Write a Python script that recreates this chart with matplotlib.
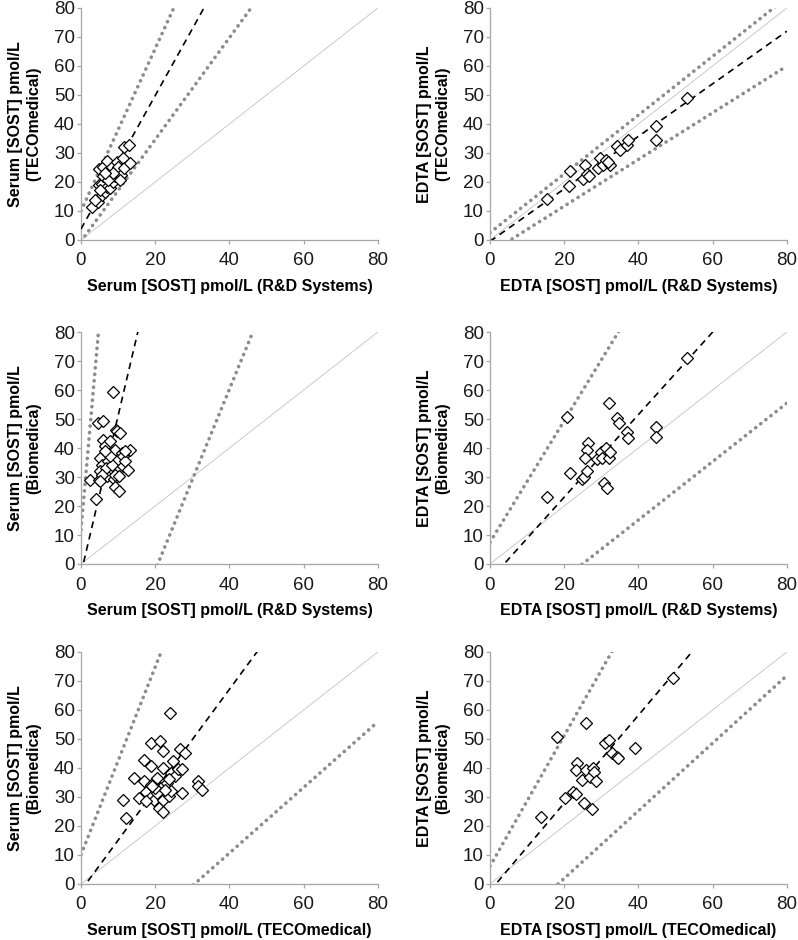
import numpy as np
import matplotlib
matplotlib.use('Agg')
from matplotlib import pyplot as plt

plt.rcParams['font.family'] = ['Liberation Sans', 'DejaVu Sans']

# serum, R&D Systems vs TECOmedical
serum_rd_a = [2.9, 4.5, 4.9, 4.9, 5.6, 5.6, 6.0, 6.0, 6.5, 6.9, 6.9, 7.8, 8.3, 8.7, 9.2,
              9.6, 9.2, 10.1, 10.8, 11.2, 11.6, 11.6, 13.0, 13.2, 5.1, 7.4, 8.7, 3.8, 6.5, 10.5]
serum_teco_a = [11.5, 13.0, 19.0, 24.4, 15.5, 19.2, 21.9, 25.3, 16.7, 27.3, 18.4, 17.8, 25.3, 20.1, 21.9,
                27.0, 23.6, 25.3, 22.4, 28.2, 24.7, 31.9, 32.8, 26.5, 17.3, 20.7, 23.0, 13.8, 23.0, 20.7]

# serum, R&D Systems vs Biomedica
serum_rd_b = [2.4, 4.0, 4.5, 5.8, 5.1, 4.9, 5.6, 5.0, 6.0, 6.5, 7.1, 7.4, 7.8, 6.7, 8.7, 8.4, 9.0, 9.2,
              9.2, 9.4, 9.8, 10.5, 10.3, 9.2, 11.0, 11.4, 11.2, 11.9, 12.6, 13.2, 10.2, 5.6, 7.8, 6.5, 5.1, 11.9]
serum_bio_b = [29.1, 22.5, 48.6, 49.2, 36.6, 29.1, 34.0, 32.0, 42.9, 40.6, 30.5, 35.4, 42.3, 33.1, 59.2, 34.3,
               29.3, 26.6, 39.4, 46.3, 45.7, 45.2, 25.1, 30.8, 38.3, 37.1, 33.9, 35.4, 32.3, 39.4, 30.5, 30.8,
               37.1, 38.9, 28.5, 38.9]

# serum, TECOmedical vs Biomedica
serum_teco_c = [11.4, 12.1, 14.4, 15.5, 17.1, 17.1, 17.5, 18.9, 18.9, 18.8, 19.1, 19.7, 20.4, 20.6, 21.3,
                21.0, 22.0, 22.0, 22.2, 22.2, 23.1, 23.6, 24.0, 24.2, 24.2, 24.9, 25.3, 26.2, 26.7, 27.1,
                27.9, 27.1, 31.6, 31.4, 32.5, 20.0, 22.7, 19.1, 17.5, 23.6]
serum_bio_c = [29.1, 22.6, 36.6, 29.5, 42.7, 35.5, 31.8, 48.7, 40.6, 34.3, 30.3, 29.1, 36.6, 31.4, 49.3,
               26.2, 24.9, 45.8, 40.1, 29.1, 34.9, 30.3, 59.0, 38.3, 32.0, 42.4, 37.4, 39.5, 46.4, 31.2,
               45.2, 39.5, 35.5, 33.7, 32.3, 33.1, 32.3, 33.7, 28.5, 36.3]

# EDTA, R&D Systems vs TECOmedical
edta_rd_a = [15.4, 21.4, 21.7, 25.1, 25.6, 26.2, 26.7, 29.2, 29.6, 30.5, 31.4, 32.3, 31.9,
             34.1, 35.0, 36.8, 37.3, 44.7, 44.7, 53.0]
edta_teco_a = [14.0, 18.6, 23.7, 20.9, 26.0, 22.6, 22.2, 24.9, 28.3, 26.0, 27.7, 26.0, 26.8,
               32.3, 31.2, 32.9, 34.6, 39.2, 34.4, 49.0]

# EDTA, R&D Systems vs Biomedica
edta_rd_b = [15.3, 20.8, 21.7, 24.7, 25.3, 26.2, 26.5, 26.2, 25.6, 28.9, 29.8, 30.1, 30.7, 31.6,
             31.2, 32.1, 32.1, 32.3, 34.3, 34.8, 36.8, 37.3, 44.7, 44.7, 53.0]
edta_bio_b = [23.2, 50.8, 31.3, 29.2, 29.9, 32.1, 41.8, 39.3, 36.4, 36.1, 38.7, 36.4, 28.0, 26.1,
              40.1, 55.6, 36.4, 38.7, 50.2, 48.7, 45.6, 43.6, 47.1, 43.7, 71.2]

# EDTA, TECOmedical vs Biomedica
edta_teco_c = [13.7, 18.1, 20.2, 22.4, 23.2, 23.5, 23.2, 24.7, 25.3, 25.9, 25.9, 26.9, 27.4, 27.7,
               28.0, 28.6, 31.0, 32.1, 32.8, 34.1, 34.4, 39.1, 49.4]
edta_bio_c = [23.0, 50.6, 29.6, 31.8, 31.1, 41.8, 39.3, 35.9, 28.0, 55.4, 39.3, 37.0, 25.8, 39.9,
              38.7, 35.6, 48.5, 49.7, 45.1, 43.7, 43.3, 46.8, 71.2]

# (intercept, slope): regression, upper limit, lower limit
fits = [
    [(3.8, 2.3), (10.0, 2.8), (-0.45, 1.755)],
    [(-0.5, 0.906), (2.5, 1.014), (-4.43, 0.805)],
    [(-3.27, 5.44), (11.8, 14.5), (-64.7, 3.125)],
    [(-5.41, 1.423), (7.5, 2.095), (-25.1, 1.007)],
    [(-2.26, 1.735), (10.1, 3.236), (-34.6, 1.1316)],
    [(-2.42, 1.515), (6.1, 2.253), (-21.4, 1.166)],
]

xlabels = ['Serum [SOST] pmol/L (R&D Systems)', 'EDTA [SOST] pmol/L (R&D Systems)',
           'Serum [SOST] pmol/L (R&D Systems)', 'EDTA [SOST] pmol/L (R&D Systems)',
           'Serum [SOST] pmol/L (TECOmedical)', 'EDTA [SOST] pmol/L (TECOmedical)']
ylabels = ['Serum [SOST] pmol/L\n(TECOmedical)', 'EDTA [SOST] pmol/L\n(TECOmedical)',
           'Serum [SOST] pmol/L\n(Biomedica)', 'EDTA [SOST] pmol/L\n(Biomedica)',
           'Serum [SOST] pmol/L\n(Biomedica)', 'EDTA [SOST] pmol/L\n(Biomedica)']

data = [(serum_rd_a, serum_teco_a), (edta_rd_a, edta_teco_a),
        (serum_rd_b, serum_bio_b), (edta_rd_b, edta_bio_b),
        (serum_teco_c, serum_bio_c), (edta_teco_c, edta_bio_c)]

fig = plt.figure(figsize=(7.98, 9.40), dpi=100)

lefts = [0.1015, 0.614]
bottoms = [0.7447, 0.400, 0.0596]
w, h = 0.372, 0.2468

spine_col = '#a6a6a6'
xs = np.array([0.0, 80.0])

for i in range(6):
    ax = fig.add_axes([lefts[i % 2], bottoms[i // 2], w, h])
    x, y = data[i]
    reg, up, lo = fits[i]

    ax.plot(xs, xs, color='#bdbdbd', lw=0.55, zorder=1)
    for a, b in (up, lo):
        ax.plot(xs, a + b * xs, color='#8c8c8c', lw=2.6, zorder=2,
                linestyle=(0, (0.05, 1.75)), dash_capstyle='round')
    ax.plot(xs, reg[0] + reg[1] * xs, color='black', lw=1.2, zorder=3,
            linestyle=(0, (4, 3)))
    ax.plot(x, y, linestyle='none', marker='D', markersize=6.0,
            markerfacecolor='white', markeredgecolor='black', markeredgewidth=0.9, zorder=4)

    ax.set_xlim(0, 80)
    ax.set_ylim(0, 80)
    ax.set_xticks(range(0, 81, 20))
    ax.set_yticks(range(0, 81, 10))
    for s in ('top', 'right'):
        ax.spines[s].set_visible(False)
    for s in ('left', 'bottom'):
        ax.spines[s].set_color(spine_col)
        ax.spines[s].set_linewidth(0.9)
    ax.tick_params(direction='out', length=3, width=0.9, color=spine_col,
                   labelsize=13.5, labelcolor='#1a1a1a')
    ax.tick_params(axis='x', pad=6)
    ax.tick_params(axis='y', pad=1.5)
    ax.set_xlabel(xlabels[i], fontsize=11.5, fontweight='bold', labelpad=7)
    ax.set_ylabel(ylabels[i], fontsize=11.5, fontweight='bold', labelpad=9, linespacing=1.25)

fig.savefig('out.png', dpi=100)
